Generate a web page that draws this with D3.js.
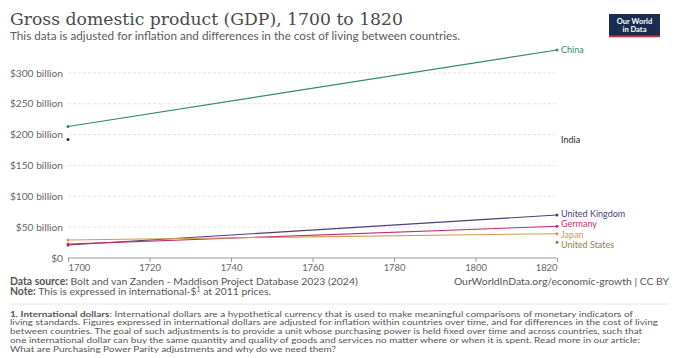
<!DOCTYPE html>
<html><head><meta charset="utf-8">
<script src="https://cdn.jsdelivr.net/npm/d3@7"></script>
<style>body{margin:0;background:#fff}svg{display:block}text{font-family:Lato,"Noto Sans",sans-serif}</style>
</head><body><svg id="c" width="683" height="358"></svg>
<script>
const years = [1700, 1820];
const countries = ["China", "India", "United Kingdom", "Germany", "Japan", "United States"];
const colors = ["#338a6c", "#2a2a2a", "#4b3f7c", "#c2306a", "#d39a4f", "#8f7f45"];
const values = [
  [213, 337],
  [192, null],
  [21, 69.7],
  [22.5, 51.4],
  [29.2, 39.4],
  [null, 25.4]
];
const labelY = [337, 192, 69.7, 51.4, 39.4, 25.4];
const yTicks = [0, 50, 100, 150, 200, 250, 300];
const yTickLabels = ["$0", "$50 billion", "$100 billion", "$150 billion", "$200 billion", "$250 billion", "$300 billion"];
const xTicks = [1700, 1720, 1740, 1760, 1780, 1800, 1820];

const svg = d3.select("#c");
const x = d3.scaleLinear().domain([1700, 1820]).range([68, 557]);
const y = d3.scaleLinear().domain([0, 337]).range([258, 50]);

// title
svg.append("text").attr("x", 10).attr("y", 25).text("Gross domestic product (GDP), 1700 to 1820")
  .style("font-family", "'DejaVu Serif',serif").style("font-size", "17px").attr("fill", "#4a4a4a")
  .attr("textLength", 393).attr("lengthAdjust", "spacingAndGlyphs");
svg.append("text").attr("x", 10).attr("y", 39.5).text("This data is adjusted for inflation and differences in the cost of living between countries.")
  .style("font-size", "11.4px").attr("fill", "#5b5b5b")
  .attr("textLength", 450).attr("lengthAdjust", "spacingAndGlyphs");

// logo
const lg = svg.append("g").attr("transform", "translate(609,14)");
lg.append("rect").attr("width", 51).attr("height", 23).attr("fill", "#1a2d4f");
lg.append("rect").attr("y", 21.5).attr("width", 51).attr("height", 1.8).attr("fill", "#c8323b");
lg.append("text").attr("x", 25.5).attr("y", 9.5).attr("text-anchor", "middle").attr("fill", "#fff").style("font-size", "7.5px").style("font-weight", "bold").text("Our World");
lg.append("text").attr("x", 25.5).attr("y", 17.5).attr("text-anchor", "middle").attr("fill", "#fff").style("font-size", "7.5px").style("font-weight", "bold").text("in Data");

// grid
const yAxis = d3.axisLeft(y).tickValues(yTicks).tickFormat((d, i) => yTickLabels[i]).tickSize(0).tickPadding(5);
const gy = svg.append("g").attr("transform", "translate(68,0)").call(yAxis);
gy.select(".domain").remove();
gy.selectAll("text").style("font-size", "10.2px").attr("fill", "#666").style("font-family", "Lato,sans-serif");
svg.append("g").selectAll("line").data(yTicks.filter(d => d > 0)).join("line")
  .attr("x1", 68).attr("x2", 557).attr("y1", d => y(d)).attr("y2", d => y(d))
  .attr("stroke", "#ddd").attr("stroke-width", 0.8).attr("stroke-dasharray", "3,2");

// x axis
const xAxis = d3.axisBottom(x).tickValues(xTicks).tickFormat(d3.format("d")).tickSize(4).tickPadding(2);
const gx = svg.append("g").attr("transform", "translate(0,258)").call(xAxis);
gx.select(".domain").attr("stroke", "#999").attr("d", "M68,0H557");
gx.selectAll("line").attr("stroke", "#999");
gx.selectAll("text").style("font-size", "9.4px").attr("fill", "#666").style("font-family", "Lato,sans-serif")
  .attr("text-anchor", (d, i) => i === 0 ? "start" : (i === xTicks.length - 1 ? "end" : "middle"));

// label positions: iterative relaxation so stacked labels do not collide
const minGap = 10.4;
const labelPos = labelY.map((v, i) => ({i, py: y(v)})).sort((a, b) => a.py - b.py);
for (let it = 0; it < 60; it++) {
  for (let k = 1; k < labelPos.length; k++) {
    const gap = labelPos[k].py - labelPos[k - 1].py;
    if (gap < minGap) {
      const d = (minGap - gap) / 2;
      labelPos[k - 1].py -= d;
      labelPos[k].py += d;
    }
  }
}
const labelYpx = [];
labelPos.forEach(p => labelYpx[p.i] = p.py);

// lines
countries.forEach((c, i) => {
  const pts = years.map((yr, j) => ({yr, v: values[i][j]})).filter(p => p.v != null);
  if (pts.length > 1) {
    svg.append("path").datum(pts).attr("fill", "none").attr("stroke", colors[i]).attr("stroke-width", 1.1)
      .attr("d", d3.line().x(p => x(p.yr)).y(p => y(p.v)));
  }
  svg.append("g").selectAll("circle").data(pts).join("circle")
    .attr("cx", p => x(p.yr)).attr("cy", p => y(p.v)).attr("r", 1.5).attr("fill", colors[i]);
  svg.append("text").attr("x", 561).attr("y", labelYpx[i]).attr("dy", "0.34em")
    .style("font-size", "9px").attr("fill", colors[i]).text(c);
});

// footer
const f = svg.append("g").style("font-size", "10.4px").attr("fill", "#555");
const t1 = f.append("text").attr("x", 10).attr("y", 284.5);
t1.append("tspan").style("font-weight", "bold").text("Data source: ");
t1.append("tspan").text("Bolt and van Zanden - Maddison Project Database 2023 (2024)");
f.append("text").attr("x", 669).attr("y", 284.5).attr("text-anchor", "end").text("OurWorldInData.org/economic-growth | CC BY");
const t2 = f.append("text").attr("x", 10).attr("y", 295);
t2.append("tspan").style("font-weight", "bold").text("Note: ");
t2.append("tspan").text("This is expressed in international-$");
t2.append("tspan").attr("dy", -3).style("font-size", "7px").text("1");
t2.append("tspan").attr("dy", 3).text(" at 2011 prices.");
svg.append("line").attr("x1", 10).attr("x2", 669).attr("y1", 304).attr("y2", 304).attr("stroke", "#e6e6e6");
const notes = [
  ["1. International dollars", ": International dollars are a hypothetical currency that is used to make meaningful comparisons of monetary indicators of", 633],
  ["", "living standards. Figures expressed in international dollars are adjusted for inflation within countries over time, and for differences in the cost of living", 658],
  ["", "between countries. The goal of such adjustments is to provide a unit whose purchasing power is held fixed over time and across countries, such that", 642],
  ["", "one international dollar can buy the same quantity and quality of goods and services no matter where or when it is spent. Read more in our article:", 640],
  ["", "What are Purchasing Power Parity adjustments and why do we need them?", 336]
];
const fn = svg.append("g").style("font-size", "8.2px").attr("fill", "#555");
notes.forEach((n, i) => {
  const t = fn.append("text").attr("x", 10).attr("y", 316.5 + i * 8.9)
    .attr("textLength", n[2] - 10).attr("lengthAdjust", "spacingAndGlyphs");
  if (n[0]) t.append("tspan").style("font-weight", "bold").text(n[0]);
  t.append("tspan").text(n[1]);
});
</script></body></html>
